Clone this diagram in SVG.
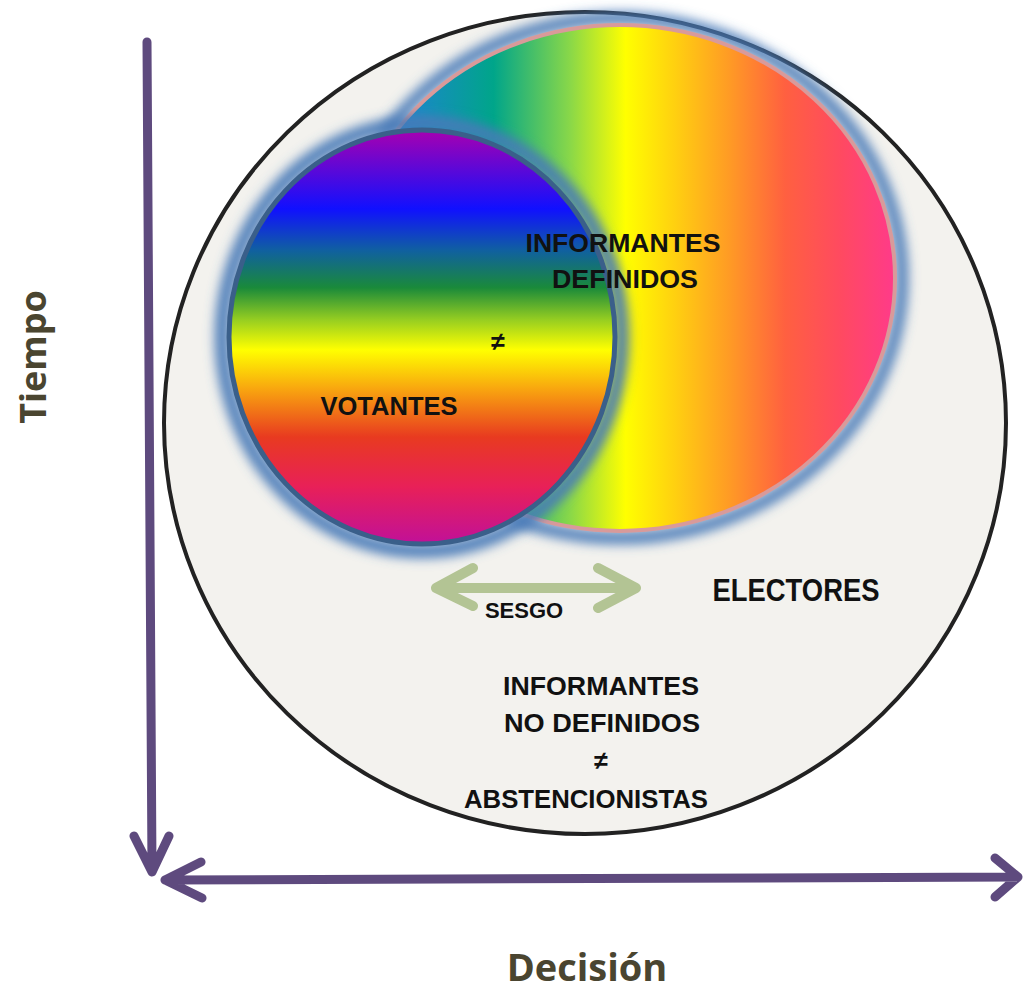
<svg xmlns="http://www.w3.org/2000/svg" width="1023" height="990" viewBox="0 0 1023 990">
  <defs>
    <linearGradient id="gInf" x1="345" y1="0" x2="895" y2="0" gradientUnits="userSpaceOnUse">
      <stop offset="0" stop-color="#2a5fd0"/>
      <stop offset="0.12" stop-color="#1a88c8"/>
      <stop offset="0.27" stop-color="#00a58a"/>
      <stop offset="0.41" stop-color="#8ad848"/>
      <stop offset="0.51" stop-color="#ffff00"/>
      <stop offset="0.6" stop-color="#ffd010"/>
      <stop offset="0.7" stop-color="#ff9a25"/>
      <stop offset="0.8" stop-color="#ff6040"/>
      <stop offset="0.9" stop-color="#ff4a60"/>
      <stop offset="1" stop-color="#ff3a8a"/>
    </linearGradient>
    <linearGradient id="gVot" x1="0" y1="130" x2="0" y2="545" gradientUnits="userSpaceOnUse">
      <stop offset="0" stop-color="#a800b0"/>
      <stop offset="0.19" stop-color="#1010ff"/>
      <stop offset="0.29" stop-color="#1060a0"/>
      <stop offset="0.38" stop-color="#1a8a3a"/>
      <stop offset="0.46" stop-color="#9ad020"/>
      <stop offset="0.53" stop-color="#ffff00"/>
      <stop offset="0.63" stop-color="#f8a010"/>
      <stop offset="0.74" stop-color="#e83a20"/>
      <stop offset="0.86" stop-color="#e82058"/>
      <stop offset="1" stop-color="#c0109a"/>
    </linearGradient>
    <filter id="glow" x="-20%" y="-20%" width="140%" height="140%">
      <feGaussianBlur stdDeviation="6"/>
    </filter>
    <style>
      .lbl{font-family:"Liberation Sans",Arial,sans-serif;font-weight:bold;fill:#111;text-anchor:middle}
      .axl{font-family:"Open Sans","Liberation Sans",sans-serif;font-weight:bold;fill:#4a4530;text-anchor:middle}
      .axis{stroke:#5e4a7e;stroke-width:9;stroke-linecap:round;stroke-linejoin:round;fill:none}
      .sesgo{stroke:#b3c494;stroke-width:10;stroke-linecap:round;stroke-linejoin:round;fill:none}
    </style>
  </defs>

  <g id="electores">
    <ellipse cx="585" cy="423" rx="421" ry="411" fill="#f3f2ee" stroke="#222" stroke-width="4"/>
    <text class="lbl" x="796" y="601" font-size="31" textLength="167" lengthAdjust="spacingAndGlyphs">ELECTORES</text>
  </g>

  <g id="informantes-definidos">
    <ellipse cx="620" cy="278" rx="282" ry="260" fill="none" stroke="#4a7ab8" stroke-width="12" filter="url(#glow)"/>
    <ellipse cx="620" cy="278" rx="275" ry="253" fill="url(#gInf)" stroke="#d99a9a" stroke-width="4"/>
  </g>

  <g id="votantes">
    <ellipse cx="422" cy="337" rx="200" ry="214" fill="none" stroke="#4a7ab8" stroke-width="14" filter="url(#glow)"/>
    <ellipse cx="422" cy="337" rx="193" ry="207" fill="url(#gVot)" stroke="#3a5f8a" stroke-width="5"/>
    <text class="lbl" x="389" y="415" font-size="25" textLength="137" lengthAdjust="spacingAndGlyphs">VOTANTES</text>
    <text class="lbl" x="498" y="350" font-size="25">≠</text>
  </g>

  <g id="informantes-definidos-label">
    <text class="lbl" x="623" y="252" font-size="25" textLength="195" lengthAdjust="spacingAndGlyphs">INFORMANTES</text>
    <text class="lbl" x="625" y="288" font-size="25" textLength="146" lengthAdjust="spacingAndGlyphs">DEFINIDOS</text>
  </g>

  <g id="no-definidos">
    <text class="lbl" x="601" y="695" font-size="25" textLength="196" lengthAdjust="spacingAndGlyphs">INFORMANTES</text>
    <text class="lbl" x="602" y="732" font-size="25" textLength="196" lengthAdjust="spacingAndGlyphs">NO DEFINIDOS</text>
    <text class="lbl" x="601" y="769" font-size="25">≠</text>
    <text class="lbl" x="586" y="808" font-size="25" textLength="244" lengthAdjust="spacingAndGlyphs">ABSTENCIONISTAS</text>
  </g>

  <g id="connectors">
    <g id="sesgo">
      <path class="sesgo" d="M436 588 L636 588 M473 568 L436 588 L473 606 M598 568 L636 588 L598 608"/>
      <text class="lbl" x="524" y="618" font-size="22">SESGO</text>
    </g>
    <g id="axes">
      <path class="axis" d="M147 42 L152 870 M134 836 L152 872 L169 836"/>
      <path class="axis" d="M165 880 L1018 877 M201 862 L165 880 L202 898 M995 858 L1018 877 L995 897"/>
    </g>
  </g>

  <g id="labels">
    <text class="axl" x="0" y="0" font-size="36" transform="translate(46 357) rotate(-90)">Tiempo</text>
    <text class="axl" x="587" y="981" font-size="38">Decisión</text>
  </g>
</svg>
